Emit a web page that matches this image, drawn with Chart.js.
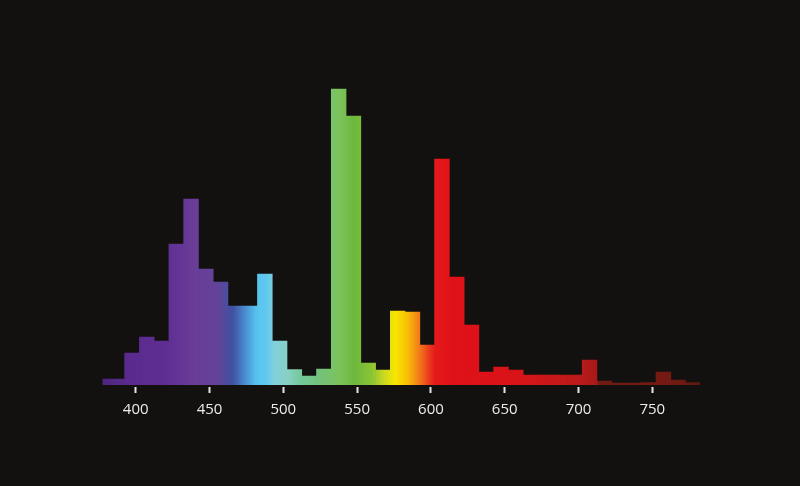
<!DOCTYPE html>
<html>
<head>
<meta charset="utf-8">
<script src="https://cdn.jsdelivr.net/npm/chart.js@4/dist/chart.umd.min.js"></script>
<style>
    html, body { margin: 0; padding: 0; background: #13110f; }
    #wrap { width: 800px; height: 486px; position: relative; }
</style>
</head>
<body>
<div id="wrap"><canvas id="spectrum"></canvas></div>
<script>
// 10 nm bins (bin centres, nm) and relative intensity
const binCenters = [377.5, 387.5, 397.5, 407.5, 417.5, 427.5, 437.5, 447.5, 457.5, 467.5,
    477.5, 487.5, 497.5, 507.5, 517.5, 527.5, 537.5, 547.5, 557.5, 567.5,
    577.5, 587.5, 597.5, 607.5, 617.5, 627.5, 637.5, 647.5, 657.5, 667.5,
    677.5, 687.5, 697.5, 707.5, 717.5, 727.5, 737.5, 747.5, 757.5, 767.5, 777.5];
const intensity = [6, 6, 32, 48, 44, 141, 186, 116, 103, 79,
    79, 111, 44, 15.5, 9, 16, 296, 269, 22, 15,
    74, 73, 40, 226, 108, 60, 13, 18, 15, 10,
    10, 10, 10, 25, 4, 2, 2, 2.5, 13, 5, 2.5];
const tickLabels = [400, 450, 500, 550, 600, 650, 700, 750];

// colour of light along the wavelength axis
const spectrumStops = [
    [378, '#4e2680'], [395, '#5a2a8e'], [420, '#5e2e92'], [440, '#6a3d98'],
    [455, '#634399'], [466, '#3f52a2'], [474, '#4a8cd0'], [482, '#58c4f0'],
    [488, '#5ec8f0'], [494, '#82d0dc'], [503, '#88d0c4'], [512, '#72c89a'],
    [525, '#74c27a'], [538, '#7cc35c'], [548, '#6cb83e'], [560, '#8cc434'],
    [568, '#c8d820'], [576, '#f9e600'], [585, '#f9b808'], [594, '#f06a1c'],
    [598, '#ea401c'], [603, '#e41a1a'], [615, '#e01018'], [660, '#d81418'],
    [700, '#bb1a1a'], [712, '#a81a18'], [714, '#701a12'], [760, '#751a13'],
    [782, '#5e1912']
];

function spectrumGradient(chart) {
    const area = chart.chartArea;
    const x = chart.scales.x;
    if (!area || !x) return null;
    const first = spectrumStops[0][0];
    const span = spectrumStops[spectrumStops.length - 1][0] - first;
    const grad = chart.ctx.createLinearGradient(
        x.getPixelForValue(first), 0, x.getPixelForValue(first + span), 0);
    spectrumStops.forEach(function (s) {
        grad.addColorStop((s[0] - first) / span, s[1]);
    });
    return grad;
}

const ctx = document.getElementById('spectrum').getContext('2d');
new Chart(ctx, {
    type: 'bar',
    data: {
        datasets: [{
            data: binCenters.map(function (c, i) { return { x: c, y: intensity[i] }; }),
            backgroundColor: function (context) { return spectrumGradient(context.chart); },
            borderWidth: 0,
            barPercentage: 1,
            categoryPercentage: 1
        }]
    },
    options: {
        responsive: true,
        maintainAspectRatio: false,
        animation: false,
        layout: { padding: { top: 85, left: 102.5, right: 99.7, bottom: 0 } },
        plugins: { legend: { display: false }, tooltip: { enabled: false } },
        scales: {
            x: {
                type: 'linear',
                min: 377.5,
                max: 782.5,
                offset: false,
                border: { display: false },
                grid: {
                    offset: false,
                    drawOnChartArea: false,
                    tickLength: 8,
                    tickWidth: 2,
                    tickColor: '#e6e6e6',
                    tickBorderDash: [0, 2, 6, 30]
                },
                ticks: {
                    stepSize: 50,
                    includeBounds: false,
                    color: '#ececec',
                    padding: 8,
                    maxRotation: 0,
                    font: { family: 'Open Sans', size: 15 },
                    callback: function (v) { return tickLabels.includes(v) ? String(v) : ''; }
                },
                afterFit: function (scale) { scale.height = 101; }
            },
            y: {
                display: false,
                min: 0,
                max: 300
            }
        }
    }
});
</script>
</body>
</html>
